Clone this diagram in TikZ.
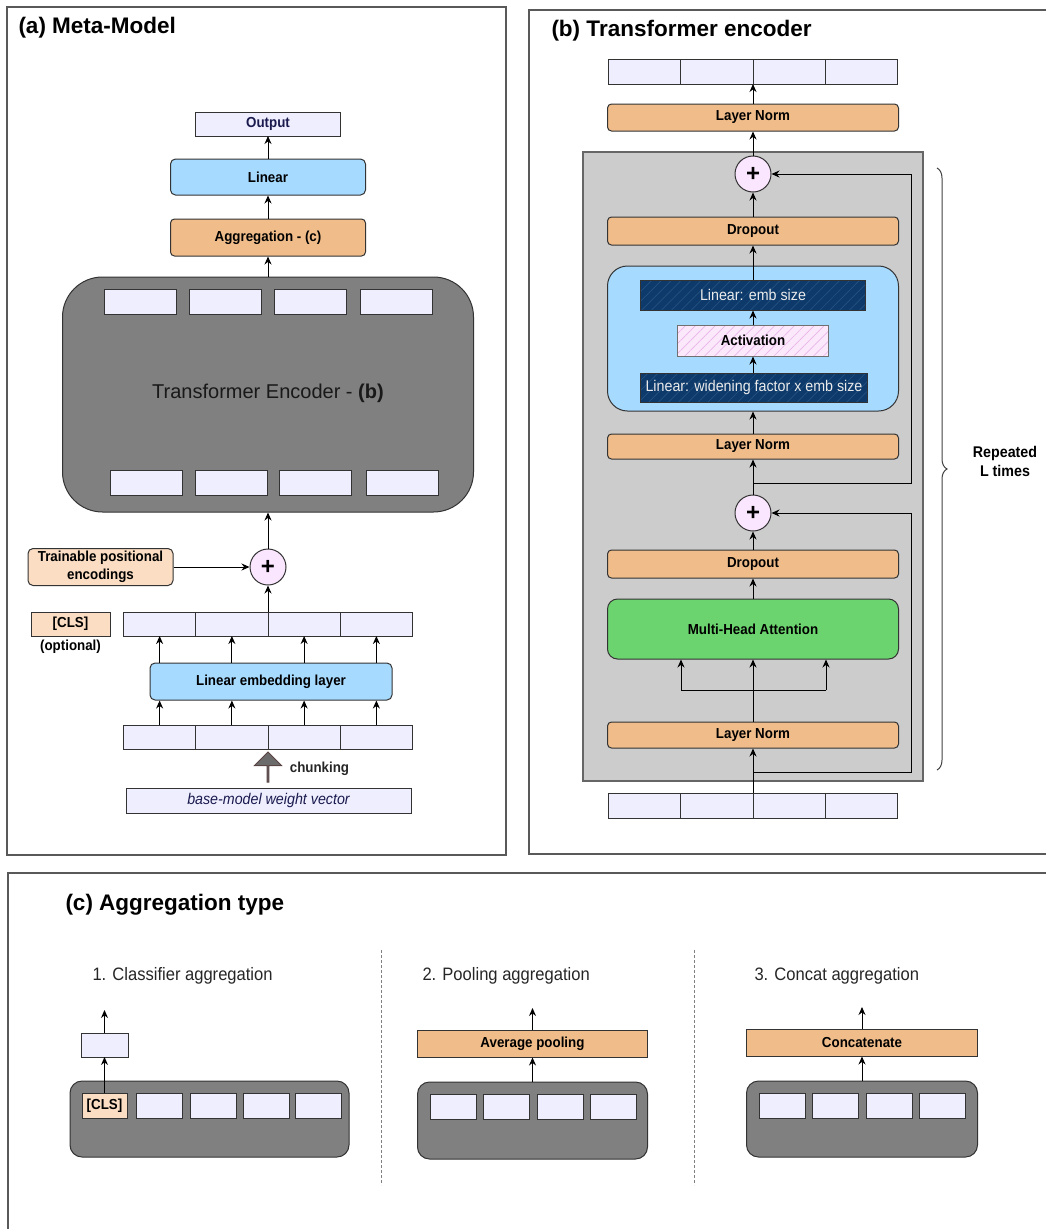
\documentclass[tikz,border=0pt]{standalone}
\usepackage{fontspec}
\setmainfont{Liberation Sans}
\newfontfamily\condfam{Liberation Sans}[FakeStretch=0.92]
\usepackage{tikz}
\usetikzlibrary{shapes,shapes.arrows}
\usetikzlibrary{arrows.meta,positioning,patterns.meta,decorations.pathreplacing}
\definecolor{lav}{HTML}{EEEEFF}
\definecolor{orng}{HTML}{F0BD8A}
\definecolor{peach}{HTML}{FADDC2}
\definecolor{lblue}{HTML}{A6DAFF}
\definecolor{mhag}{HTML}{6CD46E}
\definecolor{encg}{HTML}{808080}
\definecolor{blockg}{HTML}{CCCCCC}
\definecolor{navy}{HTML}{0D3A6B}
\definecolor{navyl}{HTML}{24527F}
\definecolor{actp}{HTML}{FBE8FB}
\definecolor{actl}{HTML}{E9B5E9}
\definecolor{plp}{HTML}{FBE6FF}
\definecolor{bord}{HTML}{333333}
\definecolor{txtn}{HTML}{1A1A4E}
\definecolor{chkb}{HTML}{5A4444}
\newcommand{\boxfont}{\condfam\fontsize{14.5}{18.5}\selectfont\bfseries}
\newcommand{\ttlfont}{\fontsize{22.5}{26}\selectfont\bfseries}
\newcommand{\subhfont}{\condfam\fontsize{18}{19}\selectfont}
\newcommand{\wfont}{\condfam\fontsize{15.5}{16}\selectfont}
\newcommand{\encfont}{\fontsize{20}{23}\selectfont}
\newcommand{\vecfont}{\condfam\fontsize{15.5}{16}\selectfont\itshape}
\newcommand{\plusfont}{\fontsize{24}{24}\selectfont\bfseries}
\newcommand{\repfont}{\condfam\fontsize{15.5}{19}\selectfont\bfseries}
\tikzstyle{frm}=[draw=black!65, line width=1.2pt]
\tikzstyle{ttl}=[font=\ttlfont, inner sep=0pt]
\tikzstyle{subh}=[font=\subhfont, text=black!85, inner sep=0pt]
\tikzstyle{cell}=[rectangle, draw=bord, fill=lav, inner sep=0pt, outer sep=0pt, minimum width=72.25pt, minimum height=24pt, line width=1pt]
\tikzstyle{tk}=[cell, minimum width=72pt, minimum height=25pt]
\tikzstyle{ctk}=[cell, minimum width=46pt, minimum height=25pt, font=\boxfont]
\tikzstyle{ob}=[rectangle, rounded corners=4pt, draw=bord, fill=orng, inner sep=0pt, minimum width=291pt, minimum height=27pt, font=\boxfont, line width=1pt]
\tikzstyle{bb}=[rectangle, rounded corners=5pt, draw=bord, fill=lblue, inner sep=0pt, font=\boxfont, line width=1pt]
\tikzstyle{pk}=[rectangle, rounded corners=5pt, draw=bord, fill=peach, inner sep=0pt, font=\boxfont, line width=1pt]
\tikzstyle{enc}=[rectangle, rounded corners=40pt, draw=bord, fill=encg, inner sep=0pt, line width=1pt]
\tikzstyle{pl}=[circle, draw=bord, fill=plp, minimum size=36pt, inner sep=0pt, font=\plusfont, line width=1pt]
\tikzstyle{nv}=[rectangle, draw=bord, preaction={fill=navy}, pattern={Lines[angle=45,distance=7pt,line width=0.7pt]}, pattern color=navyl, text=white!92!black, font=\wfont, inner sep=0pt, line width=1pt]
\tikzstyle{act}=[rectangle, draw=bord!70, preaction={fill=actp}, pattern={Lines[angle=45,distance=7pt,line width=0.7pt]}, pattern color=actl, font=\boxfont, inner sep=0pt, line width=1pt]
\tikzstyle{mlp}=[rectangle, rounded corners=20pt, draw=bord, fill=lblue, minimum width=291pt, minimum height=145pt, line width=1pt]
\tikzstyle{gb}=[rectangle, rounded corners=10pt, draw=bord, fill=mhag, minimum width=291pt, minimum height=60pt, font=\boxfont, line width=1pt]
\tikzstyle{blk}=[rectangle, draw=black!60, fill=blockg, line width=1.2pt, minimum width=340pt, minimum height=629pt, inner sep=0pt]
\tikzstyle{chk}=[single arrow, shape border rotate=90, draw=chkb, fill=black!58, minimum width=27pt, minimum height=30pt, single arrow head extend=6.5pt, inner sep=0pt, line width=1pt]
\tikzstyle{sep}=[draw=black!50, line width=1pt, dash pattern=on 3pt off 2pt]

\begin{document}
\begin{tikzpicture}
[->, >={Stealth[length=8pt,width=7pt]}, line width=1pt, x=1pt, y=-1pt, node distance=0pt]
 \useasboundingbox (0,0) rectangle (1046,1229);
 \draw[frm] (7,7) rectangle (506,855);
 \draw[frm] (529,10) rectangle (1052,854);
 \draw[frm] (8,873) rectangle (1052,1240);

 \node[ttl, anchor=west] (tta) at (18,28) {(a) Meta-Model};
 \node[cell, minimum width=145pt, font=\boxfont, text=txtn] (out) at (268,124) {Output};
 \node[bb, minimum width=195pt, minimum height=36pt] (lin) at (268,177) {Linear};
 \node[ob, minimum width=195pt, minimum height=37pt] (agg) at (268,237.5) {Aggregation - (c)};
 \node[enc, minimum width=411pt, minimum height=235pt] (enc) at (268,394.5) {};
 \node[font=\encfont, text=black!90] (enct) at (268,393) {Transformer Encoder - \textbf{(b)}};
 \node[tk] (et1) at (140.5,301.5) {};
 \node[tk] (et2) at (225.5,301.5) {};
 \node[tk] (et3) at (310,301.5) {};
 \node[tk] (et4) at (396,301.5) {};
 \node[tk] (eb1) at (146.5,483) {};
 \node[tk] (eb2) at (231.5,483) {};
 \node[tk] (eb3) at (315.5,483) {};
 \node[tk] (eb4) at (402,483) {};
 \node[pl] (pla) at (268,567) {+};
 \node[pk, minimum width=145pt, minimum height=37pt, align=center] (pos) at (100.5,567) {Trainable positional\\encodings};
 \node[cell, fill=peach, minimum width=79pt, font=\boxfont] (cls) at (70.5,624) {[CLS]};
 \node[font=\boxfont] (opt) at (70.5,647) {(optional)};
 \node[cell] (m1) at (159.625,624) {};
 \node[cell] (m2) [right=of m1] {};
 \node[cell] (m3) [right=of m2] {};
 \node[cell] (m4) [right=of m3] {};
 \node[bb, minimum width=242pt, minimum height=37pt] (le) at (271,681.5) {Linear embedding layer};
 \node[cell] (n1) at (159.625,737) {};
 \node[cell] (n2) [right=of n1] {};
 \node[cell] (n3) [right=of n2] {};
 \node[cell] (n4) [right=of n3] {};
 \node[chk] (chk) at (268,767.5) {};
 \node[font=\boxfont, anchor=west, text=black!85] (chkt) at (286,769) {chunking};
 \node[cell, minimum width=285pt, minimum height=25pt, font=\vecfont, text=txtn] (base) at (268.5,800.5) {base-model weight vector};
 \path[]
   (enc) edge (agg)
   (agg) edge (lin)
   (lin) edge (out)
   (pla) edge (enc)
   (pos) edge (pla)
   (m2.north east) edge (pla)
   (le.north -| m1) edge (m1)
   (le.north -| m2) edge (m2)
   (le.north -| m3) edge (m3)
   (le.north -| m4) edge (m4)
   (n1) edge (n1 |- le.south)
   (n2) edge (n2 |- le.south)
   (n3) edge (n3 |- le.south)
   (n4) edge (n4 |- le.south);

 \node[ttl, anchor=west] (ttb) at (551,31) {(b) Transformer encoder};
 \node[cell, minimum height=25pt] (r1) at (644.625,71.5) {};
 \node[cell, minimum height=25pt] (r2) [right=of r1] {};
 \node[cell, minimum height=25pt] (r3) [right=of r2] {};
 \node[cell, minimum height=25pt] (r4) [right=of r3] {};
 \node[ob] (lnt) at (753,117.5) {Layer Norm};
 \node[blk] (blk) at (753,466.5) {};
 \node[pl] (pl1) at (753,174) {+};
 \node[ob, minimum height=28pt] (do1) at (753,231) {Dropout};
 \node[mlp] (mlp) at (753,338.5) {};
 \node[nv, minimum width=225pt, minimum height=30pt] (le1) at (753,295) {Linear: emb size};
 \node[act, minimum width=151pt, minimum height=31pt] (act) at (753,340.5) {Activation};
 \node[nv, minimum width=227pt, minimum height=29pt] (lw) at (754,387.5) {Linear: widening factor x emb size};
 \node[ob, minimum height=25pt] (ln2) at (753,446.5) {Layer Norm};
 \node[pl] (pl2) at (753,513) {+};
 \node[ob, minimum height=28pt] (do2) at (753,564) {Dropout};
 \node[gb] (mha) at (753,629) {Multi-Head Attention};
 \node[ob, minimum height=26pt] (ln3) at (753,735) {Layer Norm};
 \node[cell, minimum height=25pt] (s1) at (644.625,805.5) {};
 \node[cell, minimum height=25pt] (s2) [right=of s1] {};
 \node[cell, minimum height=25pt] (s3) [right=of s2] {};
 \node[cell, minimum height=25pt] (s4) [right=of s3] {};
 \coordinate (spl) at (681,690);
 \coordinate (spr) at (826,690);
 \coordinate (rs1) at (753,483);
 \coordinate (rc1) at (911,483);
 \coordinate (rs2) at (753,772);
 \coordinate (rc2) at (911,772);
 \path[]
   (s2.north east) edge (ln3)
   (ln3) edge (mha)
   (spl) edge (spl |- mha.south)
   (spr) edge (spr |- mha.south)
   (mha) edge (do2)
   (do2) edge (pl2)
   (pl2) edge (ln2)
   (ln2) edge (mlp)
   (lw.north -| act) edge (act)
   (act) edge (le1)
   (le1) edge (do1)
   (do1) edge (pl1)
   (pl1) edge (lnt)
   (lnt) edge (r2.south east);
 \draw[-] (spl) -- (spr);
 \draw (rs1) -- (rc1) |- (pl1);
 \draw (rs2) -- (rc2) |- (pl2);
 \draw[-, draw=black!75, line width=1pt, decorate, decoration={brace, amplitude=10pt}] (937,168) -- (937,770);
 \node[font=\repfont, align=center] (rep) at (1005,461) {Repeated\\L times};

 \node[ttl, anchor=west] (ttc) at (65,905) {(c) Aggregation type};
 \node[subh, anchor=west] (h1) at (92,976) {1. Classifier aggregation};
 \node[subh, anchor=west] (h2) at (422,976) {2. Pooling aggregation};
 \node[subh, anchor=west] (h3) at (754,976) {3. Concat aggregation};
 \draw[-, sep] (381,950) -- (381,1185);
 \draw[-, sep] (694,950) -- (694,1185);
 \node[enc, rounded corners=12pt, minimum width=279pt, minimum height=76pt] (c1) at (209.5,1119) {};
 \node[ctk, fill=peach, minimum width=45pt] (k0) at (104.5,1105.5) {[CLS]};
 \node[ctk] (k1) at (159,1105.5) {};
 \node[ctk] (k2) at (213,1105.5) {};
 \node[ctk] (k3) at (266.5,1105.5) {};
 \node[ctk] (k4) at (318.5,1105.5) {};
 \node[cell, minimum width=47pt] (so) at (104.5,1045) {};
 \coordinate (so1) at (104.5,1010);
 \node[enc, rounded corners=12pt, minimum width=230pt, minimum height=77pt] (c2) at (532.5,1120.5) {};
 \node[ctk] (p1) at (453,1107) {};
 \node[ctk] (p2) at (506.5,1107) {};
 \node[ctk] (p3) at (560,1107) {};
 \node[ctk] (p4) at (613.5,1107) {};
 \node[ob, rounded corners=0pt, minimum width=230pt] (avg) at (532.5,1043.5) {Average pooling};
 \coordinate (ao) at (532.5,1008);
 \node[enc, rounded corners=12pt, minimum width=231pt, minimum height=76pt] (c3) at (862,1119) {};
 \node[ctk] (q1) at (782.5,1105.5) {};
 \node[ctk] (q2) at (835.5,1105.5) {};
 \node[ctk] (q3) at (889,1105.5) {};
 \node[ctk] (q4) at (942.5,1105.5) {};
 \node[ob, rounded corners=0pt, minimum width=231pt] (cat) at (862,1042.5) {Concatenate};
 \coordinate (co) at (862,1007);
 \path[]
   (k0) edge (so)
   (so) edge (so1)
   (c2) edge (avg)
   (avg) edge (ao)
   (c3) edge (cat)
   (cat) edge (co);
\end{tikzpicture}
\end{document}
